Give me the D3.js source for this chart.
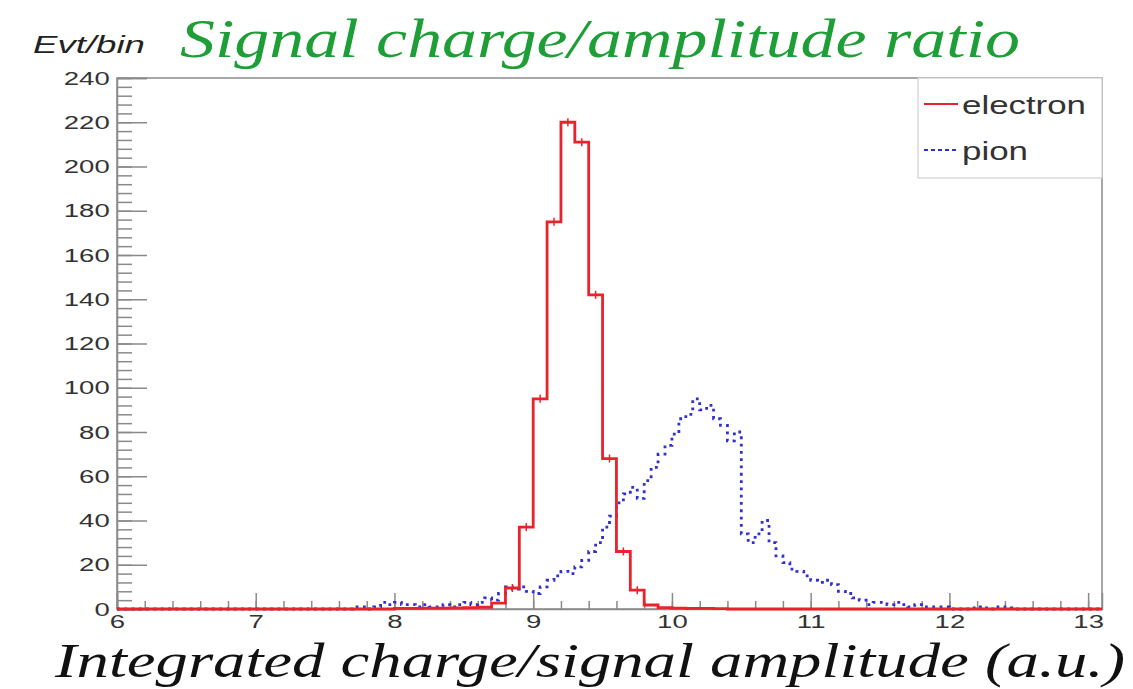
<!DOCTYPE html>
<html>
<head>
<meta charset="utf-8">
<script src="https://cdn.jsdelivr.net/npm/d3@7"></script>
<style>
  body { margin: 0; background: #fff; }
  svg { display: block; }
</style>
</head>
<body>
<script>
const width = 1133, height = 689;

// electron histogram, bins of 0.1 starting at 8.0
const electronStart = 8.0;
const electronBin = 0.1;
const electronCounts = [0.3, 0.3, 0.4, 0.4, 0.5, 0.6, 0.8, 2.7, 9.5, 37,
  95, 175, 220, 211, 142, 68, 26, 8.5, 1.8, 0.6, 0.4, 0.3, 0.3, 0.2];

// pion histogram, bins of 0.05 starting at 7.7
const pionStart = 7.7;
const pionBin = 0.05;
const pionCounts = [1, 1, 0, 1, 3, 2, 3, 2, 2, 1,
  2, 1, 1, 2, 1, 2, 3, 2, 3, 5,
  4, 7, 10, 9, 10, 8, 7, 10, 13, 15,
  17, 16, 19, 22, 26, 30, 37, 42, 48, 52,
  55, 50, 58, 64, 70, 74, 79, 86, 88, 95,
  90, 92, 86, 83, 76, 80, 34, 30, 34, 40,
  30, 24, 21, 18, 17, 15, 13, 12, 13, 11,
  8, 7, 5, 4, 2, 3, 3, 2, 3, 2,
  1, 2, 1, 1, 1, 1, 0, 0, 0, 0.5,
  1, 0.5, 0, 1, 0.5, 0];

const xTicks = [6, 7, 8, 9, 10, 11, 12, 13];
const yTicks = [0, 20, 40, 60, 80, 100, 120, 140, 160, 180, 200, 220, 240];
const legendNames = ['electron', 'pion'];

const xMin = 6, xMax = 13.1;
const plotL = 117, plotR = 1102, plotT = 78, plotB = 609;

const svg = d3.select('body').append('svg')
  .attr('width', width).attr('height', height);

const x = d3.scaleLinear().domain([xMin, xMax]).range([plotL, plotR]);
const y = d3.scaleLinear().domain([0, 240]).range([plotB, plotT]);

// frame
svg.append('rect')
  .attr('x', plotL).attr('y', plotT)
  .attr('width', plotR - plotL).attr('height', plotB - plotT)
  .attr('fill', 'none').attr('stroke', '#8a8a8a').attr('stroke-width', 1.5);

// minor ticks
svg.append('g').attr('transform', `translate(0,${plotB})`)
  .call(d3.axisBottom(x).tickValues(d3.range(6, 13.05, 0.2)).tickSize(-8).tickFormat(''))
  .call(g => g.select('.domain').remove())
  .call(g => g.selectAll('line').attr('stroke', '#8a8a8a').attr('stroke-width', 1.5));
svg.append('g').attr('transform', `translate(${plotL},0)`)
  .call(d3.axisLeft(y).tickValues(d3.range(0, 241, 4)).tickSize(-15).tickFormat(''))
  .call(g => g.select('.domain').remove())
  .call(g => g.selectAll('line').attr('stroke', '#8a8a8a').attr('stroke-width', 1.5));

// major ticks
const xAxis = svg.append('g').attr('transform', `translate(0,${plotB})`)
  .call(d3.axisBottom(x).tickValues(xTicks).tickSize(-16).tickPadding(6));
const yAxis = svg.append('g').attr('transform', `translate(${plotL},0)`)
  .call(d3.axisLeft(y).tickValues(yTicks).tickSize(-30).tickPadding(5));
[xAxis, yAxis].forEach(a => {
  a.select('.domain').attr('stroke', '#8a8a8a').attr('stroke-width', 1.5);
  a.selectAll('line').attr('stroke', '#8a8a8a').attr('stroke-width', 1.5);
  a.selectAll('text')
    .attr('font-family', 'Liberation Sans, Arial, sans-serif')
    .attr('font-size', 19).attr('fill', '#333')
    .attr('transform', 'scale(1.45,1)');
});

function histPoints(start, bin, counts) {
  const pts = [[xMin, 0]];
  counts.forEach((c, i) => pts.push([start + i * bin, c]));
  pts.push([start + counts.length * bin, 0]);
  pts.push([xMax, 0]);
  return pts;
}

const step = d3.line()
  .x(d => x(d[0])).y(d => y(d[1]))
  .curve(d3.curveStepAfter);

svg.append('path')
  .datum(histPoints(pionStart, pionBin, pionCounts))
  .attr('d', step)
  .attr('fill', 'none')
  .attr('stroke', '#3030d0')
  .attr('stroke-width', 2.8)
  .attr('stroke-dasharray', '2.8,4.5');

svg.append('path')
  .datum(histPoints(electronStart, electronBin, electronCounts))
  .attr('d', step)
  .attr('fill', 'none')
  .attr('stroke', '#e8232b')
  .attr('stroke-width', 2.8);

// small error marks at bin centres
svg.append('g').selectAll('line')
  .data(electronCounts.map((c, i) => [electronStart + (i + 0.5) * electronBin, c]).filter(d => d[1] > 5))
  .join('line')
  .attr('x1', d => x(d[0])).attr('x2', d => x(d[0]))
  .attr('y1', d => y(d[1]) - 4).attr('y2', d => y(d[1]) + 4)
  .attr('stroke', '#e8232b').attr('stroke-width', 1.5);

// legend
const lg = svg.append('g');
lg.append('rect')
  .attr('x', 918).attr('y', plotT).attr('width', plotR - 918).attr('height', 100)
  .attr('fill', '#fff').attr('stroke', '#d0d0d0').attr('stroke-width', 1.2);
const legendY = [104, 150];
const legendStyle = [{ c: '#e8232b', dash: null }, { c: '#3030d0', dash: '4,3' }];
legendNames.forEach((name, i) => {
  lg.append('line')
    .attr('x1', 924).attr('x2', 958)
    .attr('y1', legendY[i]).attr('y2', legendY[i])
    .attr('stroke', legendStyle[i].c).attr('stroke-width', 2.2)
    .attr('stroke-dasharray', legendStyle[i].dash);
  lg.append('text')
    .attr('x', 962).attr('y', legendY[i] + 10)
    .attr('font-family', 'Liberation Sans, Arial, sans-serif')
    .attr('font-size', 26).attr('fill', '#333')
    .attr('textLength', i === 0 ? 124 : 66)
    .attr('lengthAdjust', 'spacingAndGlyphs')
    .text(name);
});

// titles
svg.append('text')
  .attr('x', 33).attr('y', 53)
  .attr('font-family', 'Liberation Sans, Arial, sans-serif')
  .attr('font-style', 'italic').attr('font-size', 24).attr('fill', '#222')
  .attr('textLength', 112).attr('lengthAdjust', 'spacingAndGlyphs')
  .text('Evt/bin');

svg.append('text')
  .attr('x', 180).attr('y', 57)
  .attr('font-family', 'Liberation Serif, Times New Roman, serif')
  .attr('font-style', 'italic').attr('font-size', 54).attr('fill', '#1e9e36')
  .attr('textLength', 840).attr('lengthAdjust', 'spacingAndGlyphs')
  .text('Signal charge/amplitude ratio');

svg.append('text')
  .attr('x', 55).attr('y', 677)
  .attr('font-family', 'Liberation Serif, Times New Roman, serif')
  .attr('font-style', 'italic').attr('font-size', 48).attr('fill', '#111')
  .attr('textLength', 1070).attr('lengthAdjust', 'spacingAndGlyphs')
  .text('Integrated charge/signal amplitude (a.u.)');
</script>
</body>
</html>
